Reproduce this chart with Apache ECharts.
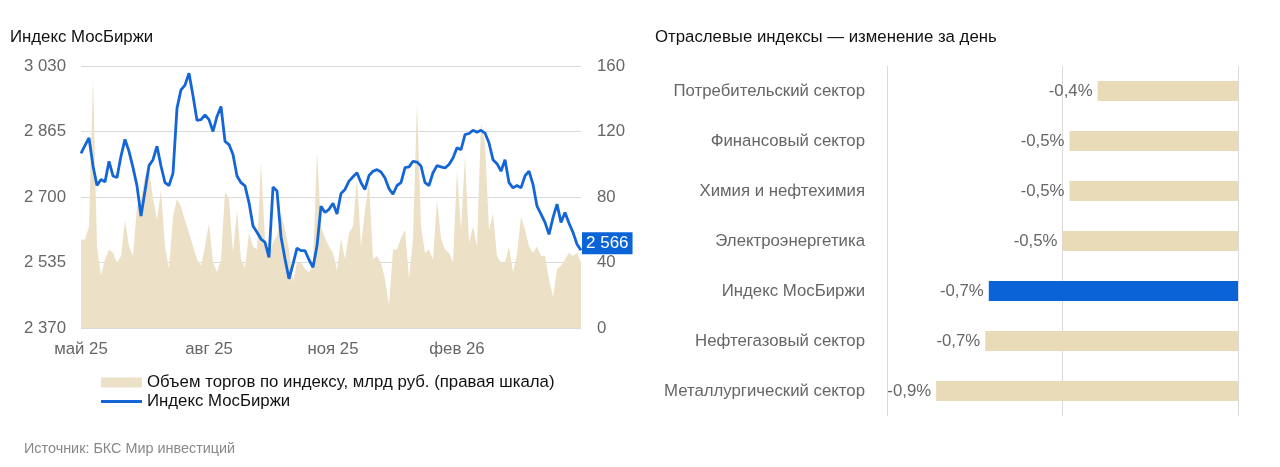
<!DOCTYPE html>
<html><head><meta charset="utf-8">
<script src="https://cdn.jsdelivr.net/npm/echarts@6/dist/echarts.min.js"></script>
<style>html,body{margin:0;padding:0;background:#fff}#c{width:1280px;height:467px}</style>
</head><body><div id="c"></div>
<script>
// ---- Data ----
const indexValues = [
  2810, 2830, 2849, 2778, 2729, 2744, 2738, 2790, 2753, 2749,
  2803, 2845, 2815, 2774, 2728, 2652, 2715, 2779, 2794, 2828,
  2778, 2736, 2729, 2760, 2924, 2970, 2982, 3012, 2955, 2893,
  2895, 2907, 2895, 2865, 2903, 2928, 2840, 2832, 2807, 2753,
  2736, 2728, 2686, 2627, 2611, 2594, 2586, 2548, 2725, 2715,
  2600, 2544, 2494, 2531, 2571, 2565, 2565, 2542, 2523, 2577,
  2677, 2661, 2669, 2684, 2657, 2709, 2719, 2740, 2751, 2761,
  2736, 2719, 2754, 2765, 2769, 2763, 2748, 2721, 2707, 2729,
  2736, 2774, 2776, 2790, 2788, 2778, 2736, 2729, 2761, 2779,
  2776, 2773, 2782, 2798, 2824, 2819, 2857, 2860, 2868, 2863,
  2868, 2861, 2836, 2794, 2784, 2765, 2794, 2736, 2723, 2729,
  2723, 2753, 2765, 2732, 2677, 2657, 2636, 2606, 2648, 2682,
  2636, 2661, 2634, 2611, 2581, 2566
];
const volumeValues = [
  54, 54, 62, 153, 50, 32, 42, 48, 46, 40,
  44, 66, 50, 44, 74, 79, 93, 97, 79, 66,
  84, 50, 36, 68, 79, 74, 66, 58, 50, 42,
  38, 50, 64, 40, 34, 42, 83, 79, 46, 72,
  42, 37, 58, 50, 48, 101, 54, 44, 52, 56,
  70, 60, 48, 28, 40, 40, 36, 34, 38, 108,
  62, 55, 50, 46, 35, 55, 42, 58, 62, 92,
  50, 72, 90, 42, 44, 40, 30, 14, 48, 48,
  55, 60, 30, 55, 138, 62, 46, 48, 42, 78,
  55, 48, 46, 40, 96, 60, 105, 52, 62, 50,
  125, 113, 60, 70, 44, 40, 40, 50, 34, 45,
  68, 60, 50, 46, 50, 44, 44, 30, 19, 36,
  38, 42, 46, 44, 46, 40
];
const startDate = '2025-05-01';
const endDate = '2026-05-04';
const monthNames = ['янв','фев','мар','апр','май','июн','июл','авг','сен','окт','ноя','дек'];
const labelMonths = [1, 4, 7, 10]; // фев, май, авг, ноя
const leftTicks = [2370, 2535, 2700, 2865, 3030];
const rightTicks = [0, 40, 80, 120, 160];

const sectors = [
  'Потребительский сектор',
  'Финансовый сектор',
  'Химия и нефтехимия',
  'Электроэнергетика',
  'Индекс МосБиржи',
  'Нефтегазовый сектор',
  'Металлургический сектор'
];
const sectorChanges = [-0.40, -0.48, -0.48, -0.50, -0.71, -0.72, -0.86];
const sectorAxis = [-1, -0.5, 0];

const volName = 'Объем торгов по индексу, млрд руб. (правая шкала)';
const indexName = 'Индекс МосБиржи';
const highlightName = 'Индекс МосБиржи';

// ---- Derived ----
const DAY = 86400000;
const t0 = Date.parse(startDate + 'T00:00:00Z');
const tEnd = Date.parse(endDate + 'T00:00:00Z');
const span = Math.round((tEnd - t0) / DAY);
const N = indexValues.length;
const dates = [];
for (let i = 0; i < N; i++) {
  const d = new Date(t0 + Math.round(i * span / (N - 1)) * DAY);
  dates.push(d.toISOString().slice(0, 10));
}
const endMonthKey = endDate.slice(0, 7);
const labelIdx = new Set();
for (let i = 0; i < N; i++) {
  const m = new Date(dates[i]).getUTCMonth();
  const pm = i > 0 ? new Date(dates[i - 1]).getUTCMonth() : -1;
  if (m !== pm && labelMonths.includes(m) && dates[i].slice(0, 7) !== endMonthKey) labelIdx.add(i);
}
const fmtThousands = v => String(Math.round(v)).replace(/\B(?=(\d{3})+(?!\d))/g, ' ');

const FONT = '"Liberation Sans", Arial, sans-serif';
const FS = 16.8;
const GRAY = '#666';
const BLUE = '#0a64d8';
const BEIGE = '#e9dab8';
const AREA = '#ece1c7';
const GRID = '#dadada';

const chart = echarts.init(document.getElementById('c'), null, {renderer: 'canvas'});
chart.setOption({
  animation: false,
  backgroundColor: '#fff',
  textStyle: {fontFamily: FONT},
  title: [
    {text: 'Индекс МосБиржи', left: 5, top: 24, textStyle: {fontSize: FS, fontWeight: 'normal', color: '#111', fontFamily: FONT}},
    {text: 'Отраслевые индексы — изменение за день', left: 650, top: 24, textStyle: {fontSize: FS, fontWeight: 'normal', color: '#111', fontFamily: FONT}},
    {text: 'Источник: БКС Мир инвестиций', left: 19, top: 437, textStyle: {fontSize: 14.4, fontWeight: 'normal', color: '#888', fontFamily: FONT}}
  ],
  legend: [
    {left: 96, top: 369, itemWidth: 41, itemHeight: 10, itemGap: 0,
     data: [{name: volName, icon: 'rect'}],
     textStyle: {fontSize: FS, color: '#111', fontFamily: FONT}, selectedMode: false},
    {left: 96, top: 388, itemWidth: 41, itemHeight: 3, itemGap: 0,
     data: [{name: indexName, icon: 'rect'}],
     textStyle: {fontSize: FS, color: '#111', fontFamily: FONT}, selectedMode: false}
  ],
  grid: [
    {left: 81, top: 66, width: 500, height: 262, containLabel: false},
    {left: 887, top: 66, width: 351, height: 350, containLabel: false}
  ],
  xAxis: [
    {type: 'category', gridIndex: 0, data: dates, boundaryGap: false,
     axisLine: {show: false}, axisTick: {show: false}, splitLine: {show: false},
     axisLabel: {
       interval: (i) => labelIdx.has(i),
       formatter: (v) => { const d = new Date(v); return monthNames[d.getUTCMonth()] + ' ' + String(d.getUTCFullYear()).slice(2); },
       color: GRAY, fontSize: FS, margin: 13, fontFamily: FONT
     }},
    {type: 'value', gridIndex: 1, min: sectorAxis[0], max: sectorAxis[sectorAxis.length - 1], interval: 0.5,
     axisLine: {show: false}, axisTick: {show: false}, axisLabel: {show: false},
     splitLine: {show: true, lineStyle: {color: GRID, width: 1}}}
  ],
  yAxis: [
    {type: 'value', gridIndex: 0, position: 'left', min: leftTicks[0], max: leftTicks[leftTicks.length - 1],
     axisLine: {show: false}, axisTick: {show: false}, splitLine: {show: false},
     axisLabel: {customValues: leftTicks, formatter: v => fmtThousands(v), color: GRAY, fontSize: FS, margin: 15, fontFamily: FONT}},
    {type: 'value', gridIndex: 0, position: 'right', min: rightTicks[0], max: rightTicks[rightTicks.length - 1], interval: 40,
     axisLine: {show: false}, axisTick: {show: false},
     splitLine: {show: true, lineStyle: {color: GRID, width: 1}},
     axisLabel: {color: GRAY, fontSize: FS, margin: 16, fontFamily: FONT}},
    {type: 'category', gridIndex: 1, data: sectors, inverse: true,
     axisLine: {show: false}, axisTick: {show: false}, splitLine: {show: false},
     axisLabel: {color: GRAY, fontSize: FS, margin: 22, fontFamily: FONT}}
  ],
  series: [
    {name: volName, type: 'line', xAxisIndex: 0, yAxisIndex: 1, data: volumeValues,
     showSymbol: false, symbol: 'none', lineStyle: {width: 0, color: AREA}, itemStyle: {color: AREA},
     areaStyle: {color: AREA, opacity: 1}, z: 1, silent: true},
    {name: indexName, type: 'line', xAxisIndex: 0, yAxisIndex: 0, data: indexValues,
     showSymbol: false, symbol: 'none', lineStyle: {width: 2.8, color: '#1466d6'}, itemStyle: {color: '#1466d6'}, z: 3,
     endLabel: {show: true, formatter: p => fmtThousands(p.value), backgroundColor: BLUE, color: '#fff',
       fontSize: 17, fontFamily: FONT, padding: [3, 4, 2, 4], distance: 1, offset: [0, -7]}},
    {name: 'Изменение', type: 'bar', xAxisIndex: 1, yAxisIndex: 2, data: sectorChanges, barWidth: 20,
     itemStyle: {color: p => p.name === highlightName ? BLUE : BEIGE},
     label: {show: true, position: 'left', distance: 5, color: GRAY, fontSize: FS, fontFamily: FONT,
       formatter: p => p.value.toFixed(1).replace('.', ',') + '%'}}
  ]
});
</script>
</body></html>
